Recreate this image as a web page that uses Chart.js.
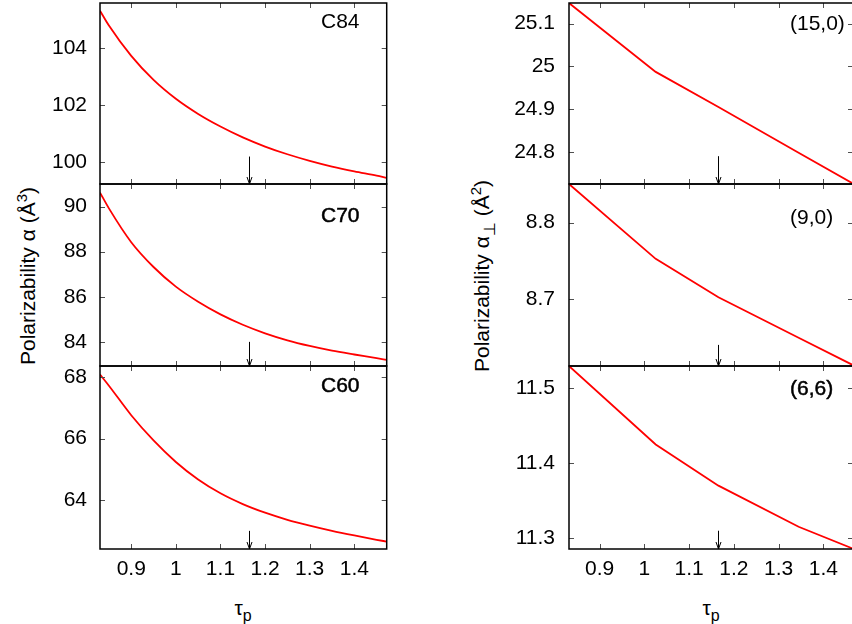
<!DOCTYPE html>
<html>
<head>
<meta charset="utf-8">
<script src="https://cdn.jsdelivr.net/npm/chart.js@4.4.1/dist/chart.umd.min.js"></script>
<style>
html,body{margin:0;padding:0;background:#fff;width:852px;height:624px;overflow:hidden;position:relative;}
canvas{position:absolute;}
.t{position:absolute;font-family:"Liberation Sans",Arial,sans-serif;font-size:21px;color:#000;white-space:nowrap;line-height:1;}
.rot{transform:translate(-50%,-50%) rotate(-90deg);}
.ctr{transform:translate(-50%,-50%);}
.t sup{font-size:15px;vertical-align:8px;line-height:0;}
.t sub{font-size:16px;vertical-align:-6px;line-height:0;}
</style>
</head>
<body>
<div class="t rot" style="left:27px;top:276px;">Polarizability α (Å<sup>3</sup>)</div>
<div class="t rot" style="left:481px;top:276px;">Polarizability α<sub>⊥</sub> (Å<sup>2</sup>)</div>
<div class="t ctr" style="left:243px;top:607px;">τ<sub>p</sub></div>
<div class="t ctr" style="left:711px;top:607px;">τ<sub>p</sub></div>
<script>
// ---------- data ----------
const tauLeft  = [0.83, 0.85, 0.90, 0.95, 1.00, 1.05, 1.10, 1.15, 1.20, 1.25, 1.30, 1.35, 1.40, 1.45, 1.4726];
const alphaC84 = [105.30, 104.78, 103.72, 102.88, 102.22, 101.69, 101.25, 100.87, 100.55, 100.28, 100.05, 99.85, 99.68, 99.53, 99.45];
const alphaC70 = [90.62, 89.92, 88.42, 87.32, 86.45, 85.78, 85.22, 84.76, 84.38, 84.07, 83.82, 83.61, 83.44, 83.28, 83.20];
const alphaC60 = [68.08, 67.72, 66.76, 65.94, 65.24, 64.67, 64.22, 63.87, 63.59, 63.36, 63.17, 63.00, 62.85, 62.71, 62.65];

const tauRight   = [0.8316, 1.0254, 1.1656, 1.3448, 1.4664];
const alpha150   = [25.148, 24.987, 24.905, 24.798, 24.726];
const alpha90    = [8.8505, 8.7526, 8.7024, 8.6493, 8.6136];
const alpha66    = [11.529, 11.4246, 11.3699, 11.3153, 11.2862];

const xTicks      = [0.9, 1, 1.1, 1.2, 1.3, 1.4];
const yTicksC84   = [100, 102, 104];
const yTicksC70   = [84, 86, 88, 90];
const yTicksC60   = [64, 66, 68];
const yTicks150   = [24.8, 24.9, 25, 25.1];
const yTicks90    = [8.7, 8.8];
const yTicks66    = [11.3, 11.4, 11.5];

const xRangeLeft  = [0.83, 1.4726];
const xRangeRight = [0.8316, 1.4664];
const yRangeC84 = [99.24, 105.57];
const yRangeC70 = [82.93, 91.0];
const yRangeC60 = [62.41, 68.36];
const yRange150 = [24.725, 25.148];
const yRange90  = [8.6124, 8.8505];
const yRange66  = [11.2857, 11.529];

const panelLabels = ['C84', 'C70', 'C60', '(15,0)', '(9,0)', '(6,6)'];
const arrowTau  = 1.165;
const arrowTops = [100.2, 84.0, 63.0, 24.79, 8.64, 11.31];

// ---------- layout ----------
const FONT = '"Liberation Sans", Arial, sans-serif';
const cols = [
  {canvasLeft: 0,   padRight: 13.3, xr: xRangeLeft,  smooth: true},
  {canvasLeft: 469, padRight: 16,   xr: xRangeRight, smooth: false}
];
const rows = [{top: 3, bottom: 184}, {top: 184, bottom: 366}, {top: 366, bottom: 549}];
const AXIS_W = 100, XAXIS_H = 75;

const panels = [
  {c:0, r:0, x:tauLeft,  y:alphaC84, yt:yTicksC84, yr:yRangeC84, lab:0, dy:19.5, heavy:false},
  {c:0, r:1, x:tauLeft,  y:alphaC70, yt:yTicksC70, yr:yRangeC70, lab:1, dy:32.7, heavy:true},
  {c:0, r:2, x:tauLeft,  y:alphaC60, yt:yTicksC60, yr:yRangeC60, lab:2, dy:20.5, heavy:true},
  {c:1, r:0, x:tauRight, y:alpha150, yt:yTicks150, yr:yRange150, lab:3, dy:21.2, heavy:false},
  {c:1, r:1, x:tauRight, y:alpha90,  yt:yTicks90,  yr:yRange90,  lab:4, dy:34.7, heavy:false},
  {c:1, r:2, x:tauRight, y:alpha66,  yt:yTicks66,  yr:yRange66,  lab:5, dy:23,   heavy:true}
];

panels.forEach((p, idx) => {
  const col = cols[p.c], row = rows[p.r];
  const last = p.r === 2;
  const cv = document.createElement('canvas');
  const h = (row.bottom - row.top) + 3 + (last ? XAXIS_H : 3);
  cv.width = 400; cv.height = h;
  cv.style.left = col.canvasLeft + 'px';
  cv.style.top = (row.top - 3) + 'px';
  cv.style.width = '400px'; cv.style.height = h + 'px';
  document.body.appendChild(cv);

  const frame = {
    id: 'frame' + idx,
    afterDatasetsDraw(chart) {
      const {ctx, chartArea: a} = chart;
      const xs = chart.scales.x, ys = chart.scales.y;
      ctx.save();
      // inward ticks on all four sides
      ctx.strokeStyle = '#505050'; ctx.lineWidth = 1;
      ctx.beginPath();
      xTicks.forEach(v => {
        const px = Math.round(xs.getPixelForValue(v)) + 0.5;
        ctx.moveTo(px, a.top); ctx.lineTo(px, a.top + 5);
        ctx.moveTo(px, a.bottom); ctx.lineTo(px, a.bottom - 5);
      });
      p.yt.forEach(v => {
        const py = Math.round(ys.getPixelForValue(v)) + 0.5;
        ctx.moveTo(a.left, py); ctx.lineTo(a.left + 5, py);
        ctx.moveTo(a.right, py); ctx.lineTo(a.right - 5, py);
      });
      ctx.stroke();
      // frame
      ctx.strokeStyle = '#000'; ctx.lineWidth = 1.5;
      ctx.strokeRect(a.left, a.top, a.right - a.left, a.bottom - a.top);
      // arrow marking tau_p
      const ax = Math.round(xs.getPixelForValue(arrowTau)) + 0.5;
      const ay0 = ys.getPixelForValue(arrowTops[idx]);
      const ay1 = a.bottom;
      ctx.lineWidth = 1;
      ctx.beginPath();
      ctx.moveTo(ax, ay0); ctx.lineTo(ax, ay1);
      ctx.moveTo(ax - 2.5, ay1 - 7); ctx.lineTo(ax, ay1); ctx.lineTo(ax + 2.5, ay1 - 7);
      ctx.stroke();
      // panel label
      ctx.font = '21px ' + FONT;
      ctx.fillStyle = '#000';
      ctx.textAlign = 'left'; ctx.textBaseline = 'middle';
      const lx = a.left + 221, ly = a.top + p.dy;
      ctx.fillText(panelLabels[p.lab], lx, ly);
      if (p.heavy) { ctx.lineWidth = 0.5; ctx.strokeStyle = '#000'; ctx.strokeText(panelLabels[p.lab], lx, ly); }
      ctx.restore();
    }
  };

  new Chart(cv, {
    type: 'line',
    data: {
      datasets: [{
        data: p.x.map((t, i) => ({x: t, y: p.y[i]})),
        borderColor: '#ff0000',
        borderWidth: 1.8,
        pointRadius: 0,
        fill: false,
        cubicInterpolationMode: col.smooth ? 'monotone' : 'default',
        tension: 0
      }]
    },
    options: {
      responsive: false,
      animation: false,
      events: [],
      layout: {padding: {left: 0, right: col.padRight, top: 3, bottom: last ? 0 : 3}},
      plugins: {legend: {display: false}, tooltip: {enabled: false}},
      scales: {
        x: {
          type: 'linear',
          min: col.xr[0], max: col.xr[1],
          display: last,
          afterBuildTicks: s => { s.ticks = xTicks.map(v => ({value: v})); },
          afterFit: s => {
            s.height = last ? XAXIS_H : 0;
            s.paddingLeft = 0; s.paddingRight = 0; s.paddingTop = 0; s.paddingBottom = 0;
          },
          grid: {display: false, drawTicks: false},
          border: {display: false},
          ticks: {font: {family: FONT, size: 21}, color: '#000', padding: 8, autoSkip: false, maxRotation: 0,
                  callback: v => String(v)}
        },
        y: {
          type: 'linear',
          min: p.yr[0], max: p.yr[1],
          afterBuildTicks: s => { s.ticks = p.yt.map(v => ({value: v})); },
          afterFit: s => {
            s.width = AXIS_W;
            s.paddingTop = 0; s.paddingBottom = 0; s.paddingLeft = 0; s.paddingRight = 0;
          },
          grid: {display: false, drawTicks: false},
          border: {display: false},
          ticks: {font: {family: FONT, size: 21}, color: '#000', padding: col.canvasLeft ? 14 : 13,
                  callback: v => String(v)}
        }
      }
    },
    plugins: [frame]
  });
});
</script>
</body>
</html>
